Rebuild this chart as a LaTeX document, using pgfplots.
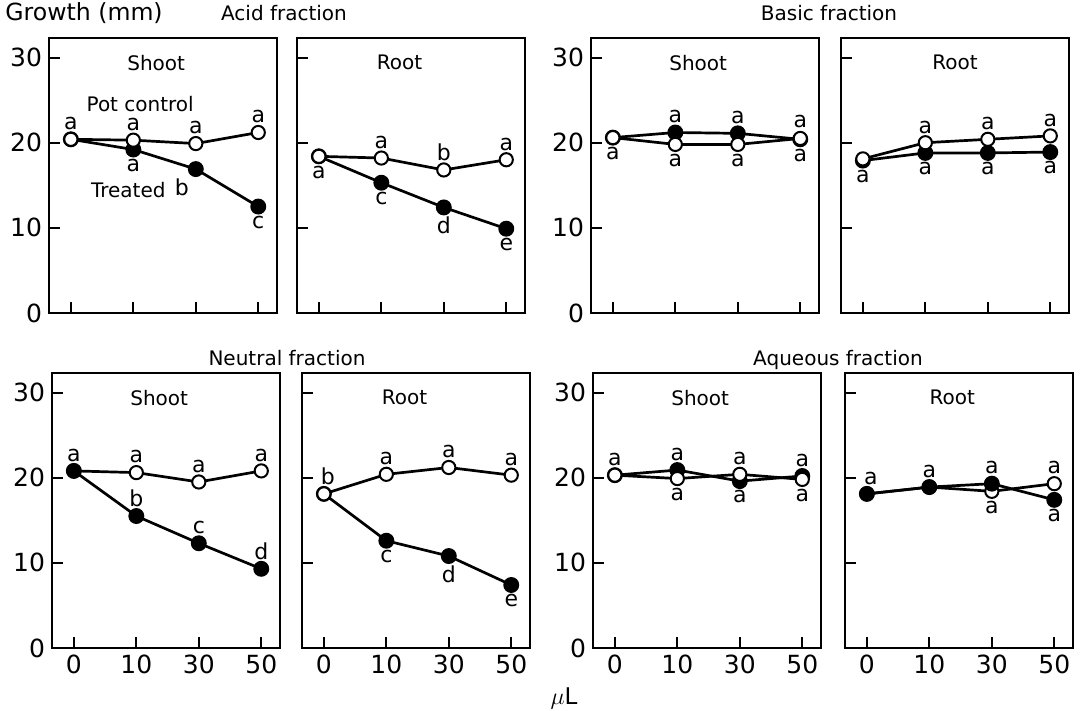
\documentclass[border=0pt]{standalone}
\usepackage{pgfplots}
\pgfplotsset{compat=1.18}
\usepackage{fontspec}
\setmainfont{DejaVu Sans}

% one panel = one axis, all share the same frame
\pgfplotsset{
  panel/.style={
    scale only axis, width=114pt, height=137.5pt,
    anchor=south west,
    xmin=-0.35, xmax=3.3, ymin=0, ymax=32.3,
    axis line style={line width=1pt},
    tick align=inside, xtick pos=bottom, ytick pos=left,
    major tick length=5.5pt, tick style={line width=1pt, black},
    xtick={0,1,2,3}, ytick={0,10,20,30},
    xticklabels={}, yticklabels={},
    tick label style={font=\fontsize{12.5}{12.5}\selectfont},
    /pgf/number format/assume math mode=true,
    clip=false,
  },
  shootlab/.style={yticklabels={0,10,20,30}},
  xlab/.style={xticklabels={0,10,30,50}},
  ctrl/.style={black, line width=1.35pt, mark=*, mark size=3.3pt,
    mark options={fill=white, line width=1pt}},
  trt/.style={black, line width=1.35pt, mark=*, mark size=3.3pt,
    mark options={fill=black}},
}
\tikzset{
  lab/.style={inner sep=0pt, font=\fontsize{11}{11}\selectfont},
  ptitle/.style={font=\fontsize{10}{10}\selectfont},
}
\newcommand\up[4][0pt]{\node[lab, anchor=south, yshift=4.5pt, xshift=#1] at (axis cs:#2,#3) {#4};}
\newcommand\dn[4][0pt]{\node[lab, anchor=north, yshift=-4.5pt, xshift=#1] at (axis cs:#2,#3) {#4};}

\begin{document}
\begin{tikzpicture}
\path[use as bounding box] (0,0) rectangle (540.5pt,355.5pt);

% ---------------- Acid fraction ----------------
\begin{axis}[panel, shootlab, at={(24.5pt,199pt)}]
\addplot[trt] coordinates {(0,20.4) (1,19.2) (2,16.9) (3,12.5)};
\addplot[ctrl] coordinates {(0,20.4) (1,20.3) (2,19.9) (3,21.2)};
\node[ptitle] at (rel axis cs:0.47,0.91) {Shoot};
\node[ptitle] at (axis cs:1.11,24.5) {Pot control};
\node[ptitle] at (axis cs:0.92,14.4) {Treated};
\up{0}{20.4}{a} \up{1}{20.3}{a} \up{2}{19.9}{a} \up{3}{21.2}{a}
\dn{1}{19.2}{a} \dn[-7pt]{2}{16.9}{b} \dn{3}{12.5}{c}
\end{axis}

\begin{axis}[panel, at={(148.5pt,199pt)}]
\addplot[trt] coordinates {(0,18.4) (1,15.3) (2,12.4) (3,9.9)};
\addplot[ctrl] coordinates {(0,18.4) (1,18.2) (2,16.8) (3,18.0)};
\node[ptitle] at (rel axis cs:0.45,0.91) {Root};
\dn{0}{18.4}{a}
\up{1}{18.2}{a} \up{2}{16.8}{b} \up{3}{18.0}{a}
\dn{1}{15.3}{c} \dn{2}{12.4}{d} \dn{3}{9.9}{e}
\end{axis}

% ---------------- Basic fraction ----------------
\begin{axis}[panel, shootlab, at={(295.5pt,199pt)}]
\addplot[trt] coordinates {(0,20.6) (1,21.2) (2,21.1) (3,20.4)};
\addplot[ctrl] coordinates {(0,20.6) (1,19.8) (2,19.8) (3,20.5)};
\node[ptitle] at (rel axis cs:0.47,0.91) {Shoot};
\dn{0}{20.6}{a}
\up{1}{21.2}{a} \up{2}{21.1}{a} \up{3}{20.6}{a}
\dn{1}{19.8}{a} \dn{2}{19.8}{a} \dn{3}{20.4}{a}
\end{axis}

\begin{axis}[panel, at={(420.5pt,199pt)}]
\addplot[trt] coordinates {(0,17.9) (1,18.8) (2,18.8) (3,18.9)};
\addplot[ctrl] coordinates {(0,18.1) (1,20.0) (2,20.4) (3,20.8)};
\node[ptitle] at (rel axis cs:0.5,0.91) {Root};
\dn{0}{17.9}{a}
\up{1}{20.0}{a} \up{2}{20.4}{a} \up{3}{20.8}{a}
\dn{1}{18.8}{a} \dn{2}{18.8}{a} \dn{3}{18.9}{a}
\end{axis}

% ---------------- Neutral fraction ----------------
\begin{axis}[panel, shootlab, xlab, at={(26pt,31.5pt)}]
\addplot[ctrl] coordinates {(0,20.8) (1,20.6) (2,19.5) (3,20.8)};
\addplot[trt] coordinates {(0,20.8) (1,15.5) (2,12.3) (3,9.3)};
\node[ptitle] at (rel axis cs:0.47,0.91) {Shoot};
\up{0}{20.8}{a} \up{1}{20.6}{a} \up{2}{19.5}{a} \up{3}{20.8}{a}
\up{1}{15.5}{b} \up{2}{12.3}{c} \up{3}{9.3}{d}
\end{axis}

\begin{axis}[panel, xlab, at={(151pt,31.5pt)}]
\addplot[trt] coordinates {(0,18.1) (1,12.6) (2,10.8) (3,7.4)};
\addplot[ctrl] coordinates {(0,18.1) (1,20.4) (2,21.2) (3,20.3)};
\node[ptitle] at (rel axis cs:0.45,0.91) {Root};
\up[2pt]{0}{18.1}{b}
\up{1}{20.4}{a} \up{2}{21.2}{a} \up{3}{20.3}{a}
\dn{1}{12.6}{c} \dn{2}{10.8}{d} \dn{3}{7.4}{e}
\end{axis}

% ---------------- Aqueous fraction ----------------
\begin{axis}[panel, shootlab, xlab, at={(296.5pt,31.5pt)}]
\addplot[trt] coordinates {(0,20.3) (1,20.9) (2,19.6) (3,20.2)};
\addplot[ctrl] coordinates {(0,20.3) (1,19.9) (2,20.4) (3,19.8)};
\node[ptitle] at (rel axis cs:0.47,0.91) {Shoot};
\up{0}{20.3}{a} \up{1}{20.9}{a} \up{2}{20.4}{a} \up{3}{20.2}{a}
\dn{1}{19.9}{a} \dn{2}{19.6}{a} \dn{3}{19.8}{a}
\end{axis}

\begin{axis}[panel, xlab, at={(422.5pt,31.5pt)}]
\addplot[ctrl] coordinates {(0,18.1) (1,18.9) (2,18.4) (3,19.3)};
\addplot[trt] coordinates {(0,18.1) (1,18.9) (2,19.3) (3,17.4)};
\node[ptitle] at (rel axis cs:0.47,0.91) {Root};
\up[2pt]{0}{18.1}{a} \up{1}{18.9}{a} \up{2}{19.3}{a} \up{3}{19.3}{a}
\dn{2}{18.4}{a} \dn{3}{17.4}{a}
\end{axis}

% ---------------- headings ----------------
\node[font=\fontsize{11.8}{11.8}\selectfont, anchor=west, inner sep=0pt] at (2.5pt,349pt) {Growth (mm)};
\node[ptitle] at (142pt,349pt) {Acid fraction};
\node[ptitle] at (414.5pt,349pt) {Basic fraction};
\node[ptitle] at (143.5pt,176.5pt) {Neutral fraction};
\node[ptitle] at (419pt,175.5pt) {Aqueous fraction};
\node[font=\fontsize{11.5}{11.5}\selectfont] at (282pt,6.5pt) {$\mu$L};
\end{tikzpicture}
\end{document}
